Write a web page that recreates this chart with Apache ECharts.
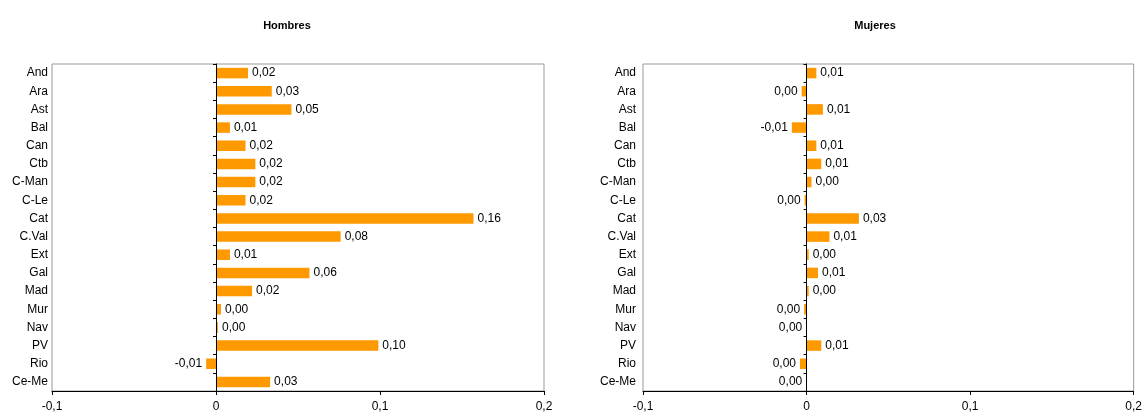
<!DOCTYPE html>
<html><head><meta charset="utf-8">
<script src="https://cdn.jsdelivr.net/npm/echarts@6/dist/echarts.min.js"></script>
<style>html,body{margin:0;padding:0;background:#fff}#c{width:1145px;height:420px}</style>
</head><body><div id="c"></div>
<script>
const categories = ['And','Ara','Ast','Bal','Can','Ctb','C-Man','C-Le','Cat','C.Val','Ext','Gal','Mad','Mur','Nav','PV','Rio','Ce-Me'];
const hombres = [0.0195,0.034,0.046,0.0085,0.018,0.024,0.024,0.018,0.157,0.076,0.0085,0.057,0.022,0.003,0.0012,0.099,-0.006,0.033];
const mujeres = [0.006,-0.003,0.010,-0.009,0.006,0.009,0.003,-0.0012,0.032,0.014,0.0013,0.007,0.0013,-0.0015,-0.0002,0.009,-0.004,-0.0002];
const titles = ['Hombres','Mujeres'];
const xTicks = {'-0.1':'-0,1','0':'0','0.1':'0,1','0.2':'0,2'};

const FONT = 'Liberation Sans';
function fmt(v){ if (Math.abs(v) < 0.005) return '0,00'; return v.toFixed(2).replace('.', ','); }
function items(arr){
  return arr.map(v => ({value: v, label: {position: v < 0 ? 'left' : 'right'}}));
}
const grids = [
  {left: 52, right: 1145-544, top: 64, bottom: 29},
  {left: 643, right: 10, top: 64, bottom: 29}
];
const labelMargins = [4, 7];
const opt = {
  animation: false,
  title: [
    {text: titles[0], left: 282, top: 15, textAlign: 'center', textStyle: {fontFamily: FONT, fontSize: 11, fontWeight: 'bold', color: '#000'}},
    {text: titles[1], left: 870, top: 15, textAlign: 'center', textStyle: {fontFamily: FONT, fontSize: 11, fontWeight: 'bold', color: '#000'}}
  ],
  grid: grids.map(g => Object.assign({show: true, borderColor: '#999', borderWidth: 1, backgroundColor: '#fff'}, g)),
  xAxis: [0,1].map(i => ({
    type: 'value', gridIndex: i, min: -0.1, max: 0.2, interval: 0.1,
    splitLine: {show: false},
    axisLine: {show: true, onZero: false, lineStyle: {color: '#000', width: 1}},
    axisTick: {show: true, length: 4, lineStyle: {color: '#000'}},
    axisLabel: {margin: 10, fontFamily: FONT, fontSize: 12, color: '#000',
      formatter: v => xTicks[String(Math.round(v*10)/10)] ?? String(v)}
  })),
  yAxis: [].concat(...[0,1].map(i => [
    {type: 'category', gridIndex: i, position: 'left', data: categories, inverse: true,
     axisLine: {show: false, onZero: false}, axisTick: {show: false},
     axisLabel: {margin: labelMargins[i], fontFamily: FONT, fontSize: 12, color: '#000'}},
    {type: 'category', gridIndex: i, position: 'left', data: categories, inverse: true, z: 5,
     axisLine: {show: true, onZero: true, onZeroAxisIndex: i, lineStyle: {color: '#000', width: 1}},
     axisTick: {show: true, length: 3, lineStyle: {color: '#000'}},
     axisLabel: {show: false}}
  ])),
  series: [hombres, mujeres].map((arr, i) => ({
    type: 'bar', xAxisIndex: i, yAxisIndex: i*2, data: items(arr), z: 2,
    barCategoryGap: '42%',
    itemStyle: {color: '#FF9900'},
    label: {show: true, distance: 4, fontFamily: FONT, fontSize: 12, color: '#000',
      formatter: p => fmt(p.value)}
  }))
};
const chart = echarts.init(document.getElementById('c'), null, {renderer: 'canvas'});
chart.setOption(opt);
</script></body></html>
